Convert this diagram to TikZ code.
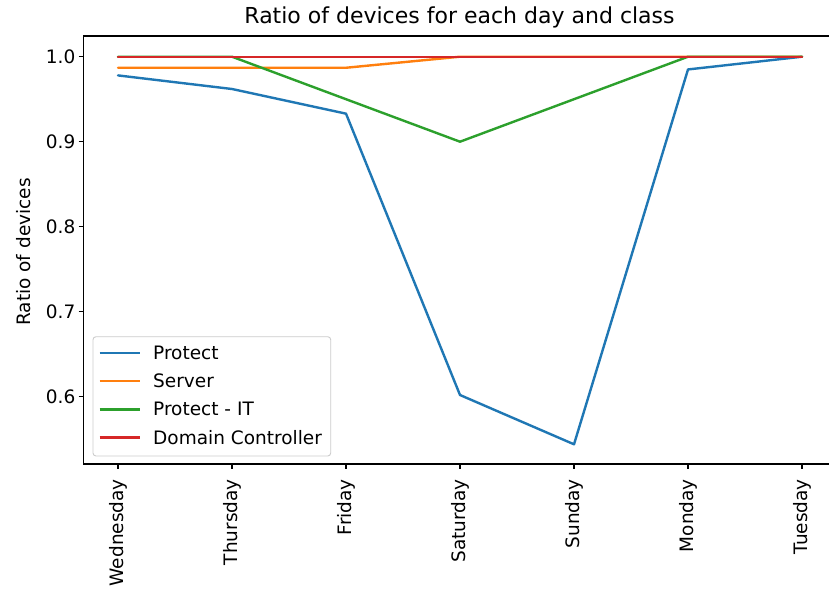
\documentclass[tikz,border=0pt]{standalone}
\usepackage{fontspec}
\setmainfont{DejaVu Sans}
\definecolor{cblue}{HTML}{1F77B4}
\definecolor{corange}{HTML}{FF7F0E}
\definecolor{cgreen}{HTML}{2CA02C}
\definecolor{cred}{HTML}{D62728}
\definecolor{legedge}{HTML}{CCCCCC}
\tikzset{
  ticklabel/.style={inner sep=0pt, font=\fontsize{18.5}{22}\selectfont},
  axisline/.style={line width=1.2pt, black},
  tickmark/.style={line width=1.2pt, black},
  series/.style={line width=2.4pt, line join=round, line cap=round},
}
\begin{document}
\begin{tikzpicture}[x=1pt,y=1pt]
\useasboundingbox (0,0) rectangle (829,-590);
\fill[white] (0,0) rectangle (829,-590);

% data lines: day index i at x = 118 + 114 i, value v at y = 850 v - 906.7
\begin{scope}[shift={(118pt,-906.7pt)}, x=114pt, y=850pt]
  \draw[series, cblue]   (0,0.978) -- (1,0.962) -- (2,0.933) -- (3,0.602) -- (4,0.544) -- (5,0.985) -- (6,1.0);
  \draw[series, corange] (0,0.987) -- (1,0.987) -- (2,0.987) -- (3,1.0) -- (4,1.0) -- (5,1.0) -- (6,1.0);
  \draw[series, cgreen]  (0,1.0) -- (1,1.0) -- (2,0.95) -- (3,0.9) -- (4,0.95) -- (5,1.0) -- (6,1.0);
  \draw[series, cred]    (0,1.0) -- (1,1.0) -- (2,1.0) -- (3,1.0) -- (4,1.0) -- (5,1.0) -- (6,1.0);
\end{scope}

% axes frame (right side lies beyond the page edge)
\draw[axisline] (829,-36) -- (83.5,-36) -- (83.5,-464) -- (829,-464);

% y ticks
\foreach \v/\yy in {0.6/396.7, 0.7/311.7, 0.8/226.7, 0.9/141.7, 1.0/56.7} {
  \draw[tickmark] (78.5,-\yy) -- (83.5,-\yy);
  \node[ticklabel, anchor=east] (yt\v) at (75.5,-\yy) {\v};
}

% x ticks
\foreach \d [count=\i from 0] in {Wednesday,Thursday,Friday,Saturday,Sunday,Monday,Tuesday} {
  \pgfmathsetmacro{\xx}{118+114*\i}
  \draw[tickmark] (\xx,-464) -- (\xx,-469);
  \node[ticklabel, rotate=90, anchor=east] (xt\i) at (\xx,-479) {\d};
}

% axis label and title
\node[ticklabel, rotate=90] (ylab) at (23.5,-252) {Ratio of devices};
\node[inner sep=0pt, font=\fontsize{22}{26}\selectfont] (title) at (459.5,-17.5) {Ratio of devices for each day and class};

% legend
\draw[legedge, line width=0.9pt, rounded corners=3pt, fill=white, fill opacity=0.8] (93,-336.7) rectangle (330.7,-456);
\foreach \c/\t/\yy [count=\k] in {cblue/Protect/352.7, corange/Server/381, cgreen/Protect - IT/409.3, cred/Domain Controller/437.3} {
  \draw[series, \c, line cap=butt] (99.5,-\yy) -- (139.5,-\yy);
  \node[ticklabel, anchor=west] (leg\k) at (153,-\yy) {\t};
}
\end{tikzpicture}
\end{document}
